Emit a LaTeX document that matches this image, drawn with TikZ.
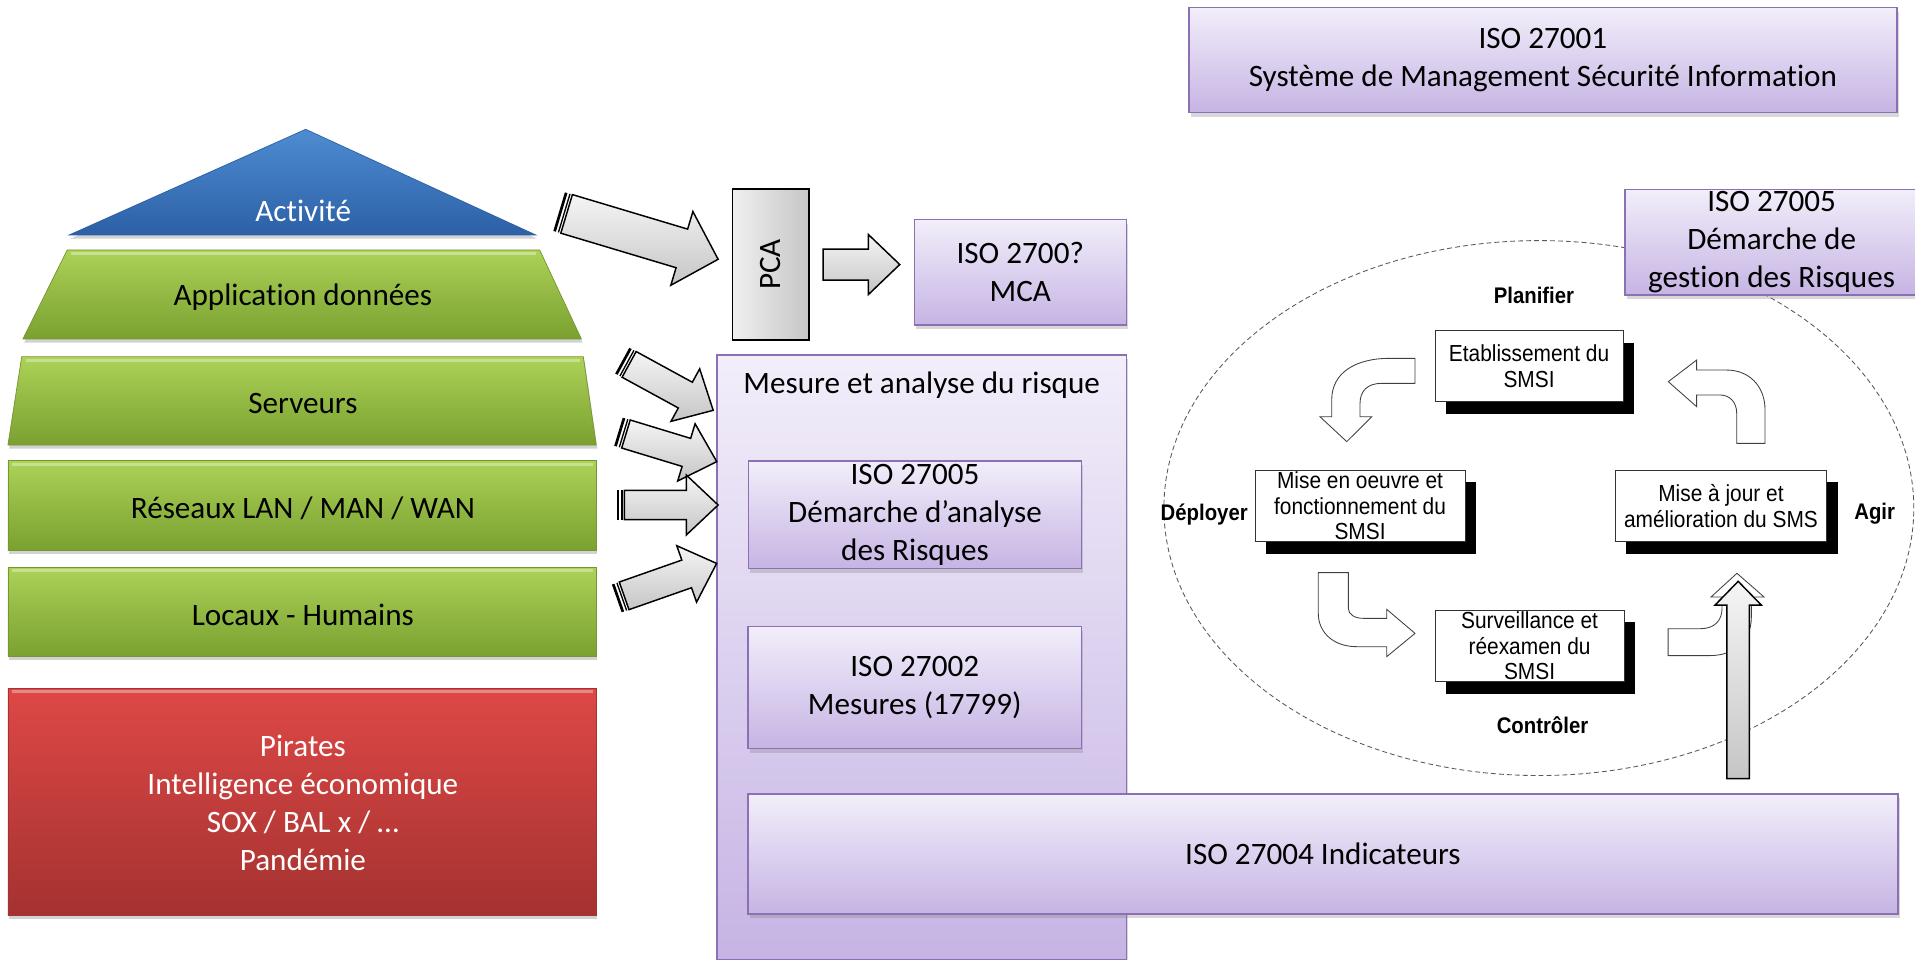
\documentclass[tikz,border=0pt]{standalone}
\usepackage{fontspec}
\setmainfont{Carlito}[Ligatures=NoCommon]
\newfontfamily\arialf{Liberation Sans}[FakeStretch=0.9]
\usetikzlibrary{shadows,shapes.geometric}

\definecolor{pbord}{RGB}{140,112,180}
\definecolor{ptop}{RGB}{242,238,250}
\definecolor{pbot}{RGB}{198,180,228}
\definecolor{gtop}{RGB}{172,210,88}
\definecolor{gbot}{RGB}{122,160,48}
\definecolor{gbord}{RGB}{118,150,50}
\definecolor{btop}{RGB}{78,140,210}
\definecolor{bbot}{RGB}{44,96,166}
\definecolor{rtop}{RGB}{222,72,70}
\definecolor{rbot}{RGB}{164,50,48}

% block arrow between two named coordinates
% #1 start, #2 end, #3 body half width, #4 head half width, #5 head length, #6 striped tail (1/0)
\newcommand\blockarrow[6]{%
  \path (#1); \pgfgetlastxy{\bax}{\bay}%
  \path (#2); \pgfgetlastxy{\bbx}{\bby}%
  \pgfmathsetmacro\bang{atan2(\bby-\bay,\bbx-\bax)}%
  \pgfmathsetmacro\blen{veclen(\bbx-\bax,\bby-\bay)}%
  \pgfmathsetmacro\bneck{\blen-#5}%
  \begin{scope}[shift={(\bax,\bay)}, rotate=\bang, x=1pt, y=1pt]
    \ifnum#6=1
      \fill[black] (0,-#3) rectangle (2.2,#3);
      \fill[black] (3.8,-#3) rectangle (4.9,#3);
      \def\bst{6.4}%
    \else
      \def\bst{0}%
    \fi
    \path[arrfill] (\bst,-#3) -- (\bneck,-#3) -- (\bneck,-#4) -- (\blen,0)
      -- (\bneck,#4) -- (\bneck,#3) -- (\bst,#3) -- cycle;
  \end{scope}
}

\begin{document}
\begin{tikzpicture}[x=1pt,y=-1pt,
  main/.style={font=\fontsize{25.5}{31}\selectfont, align=center, inner sep=0pt},
  pbox/.style={draw=pbord, line width=1.2pt, top color=ptop, bottom color=pbot, main,
    drop shadow={shadow xshift=1.5pt,shadow yshift=-3.5pt,opacity=0.3}},
  gshape/.style={top color=gtop, bottom color=gbot, draw=gbord, line width=0.6pt,
    drop shadow={shadow xshift=1pt,shadow yshift=-3pt,opacity=0.35}},
  bshape/.style={top color=btop, bottom color=bbot, draw=bbot, line width=0.6pt,
    drop shadow={shadow xshift=1pt,shadow yshift=-3pt,opacity=0.35}},
  rshape/.style={top color=rtop, bottom color=rbot, draw=rbot, line width=0.6pt,
    drop shadow={shadow xshift=1pt,shadow yshift=-3pt,opacity=0.35}},
  hilite/.style={draw=white, opacity=0.35, line width=2.5pt},
  arrfill/.style={draw=black, line width=1.2pt, top color=gray!8, bottom color=gray!45},
  pcab/.style={draw=black, line width=1.2pt, left color=gray!12, right color=gray!45},
  cbox/.style={draw=black!80, line width=0.7pt, fill=white, align=center, inner sep=0pt,
    font=\arialf\fontsize{19}{21}\selectfont,
    general shadow={fill=black, shadow xshift=9pt, shadow yshift=-10pt}},
  lab/.style={font=\arialf\bfseries\fontsize{18.5}{20}\selectfont, inner sep=0pt},
  carr/.style={draw=black!75, line width=0.7pt, fill=white},
  ell/.style={draw=black!65, line width=0.7pt, dash pattern=on 4pt off 2.5pt, ellipse}
]
\useasboundingbox (0,0) rectangle (1568,786);
\fill[white] (0,0) rectangle (1568,786);

% ---------- pyramid ----------
\path[bshape] (56.7,192.4) -- (250.3,105.9) -- (438.7,192.4) -- cycle;
\node[main, text=white] (act) at (248.3,173) {Activité};
\path[gshape] (55,204.7) -- (441.9,204.7) -- (476,277.5) -- (18.8,277.5) -- cycle;
\draw[hilite] (58,207.5) -- (439,207.5);
\node[main] (app) at (248,243) {Application données};
\path[gshape] (17.8,292) -- (477.6,292) -- (488.2,364.4) -- (6.5,364.4) -- cycle;
\draw[hilite] (21,294.8) -- (474.5,294.8);
\node[main] (srv) at (248,330) {Serveurs};
\path[gshape] (6.5,377.2) rectangle (488.2,450.9);
\draw[hilite] (9.5,380) -- (485.2,380);
\node[main] (res) at (248,416) {Réseaux LAN / MAN / WAN};
\path[gshape] (6.5,464.5) rectangle (488.2,537.7);
\draw[hilite] (9.5,467.3) -- (485.2,467.3);
\node[main] (loc) at (248,503.6) {Locaux - Humains};
\path[rshape] (6.5,563.6) rectangle (488.2,749.2);
\draw[hilite] (9.5,566.4) -- (485.2,566.4);
\node[main, text=white] (thr) at (248,657.5) {Pirates\\Intelligence économique\\SOX / BAL x / …\\Pandémie};

% ---------- PCA / MCA ----------
\node[pcab, minimum width=62.6pt, minimum height=123.6pt, inner sep=0pt] (pca) at (631.1,216.6) {};
\node[main, rotate=90] (pcat) at (pca.center) {PCA};
\node[pbox, minimum width=173.6pt, minimum height=86.5pt] (mca) at (835.4,222.9) {ISO 2700?\\MCA};

% ---------- Mesure ----------
\node[pbox, minimum width=335.2pt, minimum height=494.8pt] (mes) at (754.7,538.1) {};
\node[main] (mest) at (754.7,315.2) {Mesure et analyse du risque};
\node[pbox, minimum width=272.5pt, minimum height=87.8pt] (ana) at (749.2,421.4) {ISO 27005\\Démarche d’analyse\\des Risques};
\node[pbox, minimum width=272.9pt, minimum height=99.6pt] (mes2) at (749,562.9) {ISO 27002\\Mesures (17799)};

% ---------- ISO 27001 ----------
\node[pbox, minimum width=579.5pt, minimum height=86pt] (iso1) at (1263.3,49) {ISO 27001\\Système de Management Sécurité Information};

% ---------- PDCA cycle ----------
\node[ell, minimum width=614pt, minimum height=438pt] (cyc) at (1260,416) {};

\node[pbox, minimum width=240pt, minimum height=86.5pt] (ges) at (1450.6,198.3) {ISO 27005\\Démarche de\\gestion des Risques};

\node[lab] (plan) at (1256,242) {Planifier};
\node[lab] (depl) at (986,421) {Déployer};
\node[lab] (agir) at (1535,421) {Agir};
\node[lab] (ctrl) at (1263,594) {Contrôler};

\node[cbox, minimum width=154pt, minimum height=58.1pt] (etab) at (1252,299.9) {Etablissement du\\SMSI};
\node[cbox, minimum width=171.9pt, minimum height=58.7pt] (oeuv) at (1113.6,414.2) {Mise en oeuvre et\\fonctionnement du\\SMSI};
\node[cbox, minimum width=173.3pt, minimum height=58.7pt] (majr) at (1409.1,414.2) {Mise à jour et\\amélioration du SMS};
\node[cbox, minimum width=154.8pt, minimum height=58.7pt] (surv) at (1252.4,528.9) {Surveillance et\\réexamen du\\SMSI};

% curved outline arrows
\path[carr] (1158.6,293.4) -- (1138,293.4) .. controls (1110,293.4) and (1090.4,305) .. (1090.4,327.5)
  -- (1090.4,341.2) -- (1080.8,341.2) -- (1102.7,361.6) -- (1123.2,341.2) -- (1113.6,341.2)
  -- (1113.6,330) .. controls (1113.6,320) and (1120,313.9) .. (1131,313.9) -- (1158.6,313.9) -- cycle;
\path[carr] (1079.4,468.9) -- (1104,468.9) -- (1104,498) .. controls (1104,503) and (1109,506.3) .. (1116.3,506.3)
  -- (1135.4,506.3) -- (1135.4,498.9) -- (1158.6,518.6) -- (1135.4,537.7) -- (1135.4,529.5)
  -- (1110.8,529.5) .. controls (1092,529.5) and (1079.4,518) .. (1079.4,502.2) -- cycle;
\path[carr] (1422,363) -- (1445.2,363) -- (1445.2,335.7) .. controls (1445.2,316) and (1432,303) .. (1413.8,303)
  -- (1389.2,303) -- (1389.2,294.8) -- (1366,312.5) -- (1389.2,333) -- (1389.2,323.4)
  -- (1408.3,323.4) .. controls (1416,323.4) and (1422,329) .. (1422,338.4) -- cycle;
\path[carr] (1365.8,514.8) -- (1392,514.8) .. controls (1404,514.8) and (1410,508) .. (1410,498)
  -- (1410,488.8) -- (1401,488.8) -- (1422.2,469.4) -- (1444.4,488.8) -- (1434,488.8)
  -- (1434,505) .. controls (1434,525) and (1420,536.8) .. (1400,536.8) -- (1365.8,536.8) -- cycle;

% ---------- ISO 27004 ----------
\node[pbox, minimum width=941.4pt, minimum height=98.3pt] (ind) at (1083.2,699.3) {ISO 27004 Indicateurs};

% ---------- block arrows ----------
\coordinate (a1s) at (457.8,173.3);  \coordinate (a1e) at (588,212.3);
\coordinate (a2s) at (509.5,295.3);  \coordinate (a2e) at (584,336);
\coordinate (a3s) at (506.4,353.5);  \coordinate (a3e) at (586.9,378);
\coordinate (a4s) at (504.8,413.5);  \coordinate (a4e) at (588,413.5);
\coordinate (a5s) at (505,490);      \coordinate (a5e) at (586.8,461.3);
\coordinate (pS) at (674,216.6);     \coordinate (pE) at (736.7,216.6);
\coordinate (gS) at (1423.2,637.5);  \coordinate (gE) at (1423.2,476);

\blockarrow{a1s}{a1e}{16.5}{31.5}{31}{1}
\blockarrow{a2s}{a2e}{12}{24.5}{26}{1}
\blockarrow{a3s}{a3e}{12}{24.5}{26}{1}
\blockarrow{a4s}{a4e}{12}{24.5}{26}{1}
\blockarrow{a5s}{a5e}{12}{24.5}{26}{1}
\blockarrow{pS}{pE}{12.7}{24.6}{25.7}{0}
\blockarrow{gS}{gE}{9.2}{19}{19.5}{0}
\end{tikzpicture}
\end{document}
